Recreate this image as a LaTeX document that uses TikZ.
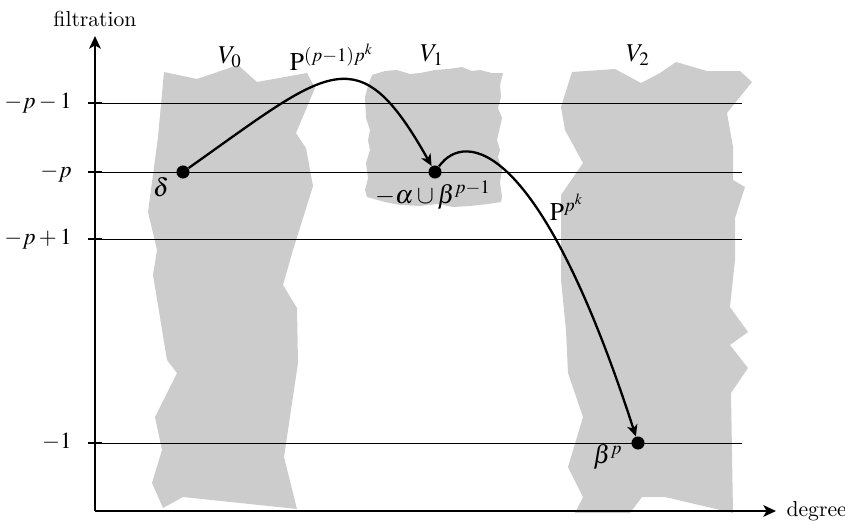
\documentclass[tikz,border=0pt]{standalone}
\usepackage{mathptmx}
\usetikzlibrary{arrows.meta,positioning,calc}
\tikzset{
  vzone/.style={fill=black!20,draw=none},
  fline/.style={line width=0.45pt},
  ftick/.style={line width=1.2pt},
  faxis/.style={-{Stealth[length=6pt,width=5.5pt,inset=1.5pt]},line width=1.2pt},
  fmap/.style={-{Stealth[length=5.5pt,width=5pt,inset=1.5pt]},line width=1.1pt},
  cls/.style={circle,fill=black,inner sep=0pt,minimum size=6.2pt},
  flab/.style={anchor=base east},
  mlab/.style={font=\fontsize{12.2}{14}\selectfont}
}
\begin{document}
\begin{tikzpicture}[x=0.476pt,y=-0.476pt,font=\fontsize{10.3}{12}\selectfont]
  \useasboundingbox (0,0) rectangle (845,521);
  % the three pieces V_0, V_1, V_2
  \fill[vzone] (164,72) -- (197,79) -- (238,65) -- (257,82) -- (307,73) -- (315,88)
    -- (296,133) -- (306,148) -- (313,186) -- (293,250) -- (283,285) -- (297,308)
    -- (298,363) -- (284,457) -- (297,509) -- (183,497) -- (163,508) -- (152,483)
    -- (162,450) -- (155,417) -- (177,373) -- (167,360) -- (153,275) -- (157,250)
    -- (148,212) -- (158,137) -- cycle;
  \fill[vzone] (372,75) -- (385,71) -- (397,70) -- (410,74) -- (420,73) -- (435,70)
    -- (448,69) -- (462,67) -- (472,71) -- (480,70) -- (492,73) -- (503,73)
    -- (500,85) -- (501,97) -- (498,108) -- (502,118) -- (500,127) -- (497,140)
    -- (500,150) -- (498,157) -- (502,170) -- (500,182) -- (502,197) -- (501,202)
    -- (488,204) -- (470,206) -- (453,207) -- (438,204) -- (420,206) -- (400,205)
    -- (385,202) -- (367,197) -- (365,190) -- (368,178) -- (366,163) -- (370,150)
    -- (368,140) -- (370,130) -- (366,118) -- (365,97) -- (368,86) -- cycle;
  \fill[vzone] (572,72) -- (615,69) -- (641,83) -- (660,73) -- (676,62) -- (707,71)
    -- (740,71) -- (752,82) -- (727,113) -- (733,147) -- (733,180) -- (745,187)
    -- (735,218) -- (735,260) -- (730,307) -- (748,332) -- (730,345) -- (748,368)
    -- (731,393) -- (733,513) -- (665,497) -- (642,497) -- (630,513) -- (575,513)
    -- (583,497) -- (568,467) -- (583,417) -- (568,373) -- (566,330) -- (561,280)
    -- (561,195) -- (583,163) -- (565,130) -- (561,107) -- cycle;
  \node[mlab] (v0) at (230,57) {$V_0$};
  \node[mlab] (v1) at (432,55) {$V_1$};
  \node[mlab] (v2) at (638,55) {$V_2$};

  % filtration levels
  \coordinate (a1) at (95,103);  \coordinate (b1) at (742,103);
  \coordinate (a2) at (95,172);  \coordinate (b2) at (742,172);
  \coordinate (a3) at (95,239);  \coordinate (b3) at (742,239);
  \coordinate (a4) at (95,443);  \coordinate (b4) at (742,443);
  \draw[fline] (a1) -- (b1);
  \draw[fline] (a2) -- (b2);
  \draw[fline] (a3) -- (b3);
  \draw[fline] (a4) -- (b4);
  \draw[ftick] ($(a1)+(-7,0)$) -- ($(a1)+(7,0)$);
  \draw[ftick] ($(a2)+(-7,0)$) -- ($(a2)+(7,0)$);
  \draw[ftick] ($(a3)+(-7,0)$) -- ($(a3)+(7,0)$);
  \draw[ftick] ($(a4)+(-7,0)$) -- ($(a4)+(7,0)$);
  \node[flab,font=\fontsize{11}{13}\selectfont] (l1) at (79,108.5) {$-p-1$};
  \node[flab,font=\fontsize{11}{13}\selectfont] (l2) at (79,177.5) {$-p$};
  \node[flab,font=\fontsize{11}{13}\selectfont] (l3) at (79,244.5) {$-p+1$};
  \node[flab,font=\fontsize{11}{13}\selectfont] (l4) at (79,448.5) {$-1$};

  % axes
  \coordinate (O) at (95,511);
  \coordinate (ytop) at (95,36);
  \coordinate (xend) at (776,511);
  \draw[faxis] (O) -- (ytop);
  \draw[faxis] (O) -- (xend);
  \node[above=1pt of ytop] (ylab) {filtration};
  \node[right=1.5pt of xend] (xlab) {degree};

  % classes and the two operations
  \node[cls] (delta) at (183,172) {};
  \node[cls] (cup) at (435,172) {};
  \node[cls] (bp) at (638,443) {};
  \node[mlab] (deltalab) at (161,187) {$\delta$};
  \node[mlab] (cuplab) at (433,195) {$-\alpha\cup\beta^{p-1}$};
  \node[mlab] (bplab) at (608,457) {$\beta^{p}$};
  \draw[fmap] (delta) .. controls (330,68) and (358,35) .. (cup);
  \draw[fmap] (cup) .. controls (465,130) and (540,140) .. (bp);
  \node[mlab] (op1) at (332,57) {$\mathrm{P}^{(p-1)p^k}$};
  \node[mlab] (op2) at (567,207) {$\mathrm{P}^{p^k}$};
\end{tikzpicture}
\end{document}
